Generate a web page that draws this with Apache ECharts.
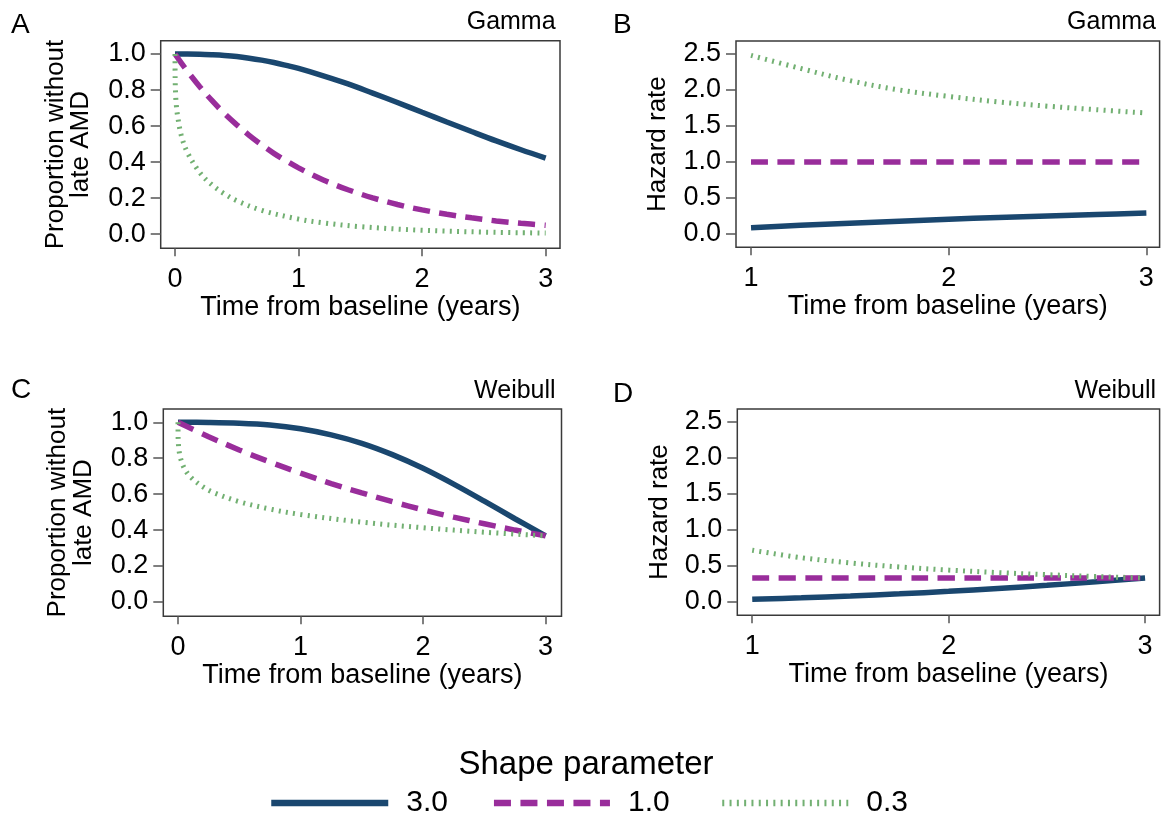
<!DOCTYPE html>
<html>
<head>
<meta charset="utf-8">
<script src="https://cdn.jsdelivr.net/npm/echarts@6/dist/echarts.min.js"></script>
<style>
html,body{margin:0;padding:0;background:#fff;}
#chart{width:1161px;height:821px;}
</style>
</head>
<body>
<div id="chart"></div>
<script>
// ---------- data ----------
const seriesNames = ['3.0', '1.0', '0.3'];
const xTicksSurv = [0, 1, 2, 3];
const xTicksHaz = [1, 2, 3];
const yTicksSurv = [0, 0.2, 0.4, 0.6, 0.8, 1.0];
const yTicksHaz = [0, 0.5, 1.0, 1.5, 2.0, 2.5];

// Panel A: Gamma survival
const gammaSurvT = [0, 0.05, 0.1, 0.2, 0.3, 0.4, 0.5, 0.6, 0.7, 0.8, 0.9, 1.0, 1.2, 1.4, 1.6, 1.8, 2.0, 2.2, 2.4, 2.6, 2.8, 3.0];
const gammaSurv30 = [1, 1.000, 1.000, 0.999, 0.996, 0.992, 0.986, 0.977, 0.966, 0.953, 0.937, 0.920, 0.879, 0.834, 0.783, 0.731, 0.677, 0.623, 0.570, 0.518, 0.469, 0.423];
const gammaSurv10 = [1, 0.951, 0.905, 0.819, 0.741, 0.670, 0.607, 0.549, 0.497, 0.449, 0.407, 0.368, 0.301, 0.247, 0.202, 0.165, 0.135, 0.111, 0.091, 0.074, 0.061, 0.050];
const gammaSurvT03 = [0, 0.001, 0.005, 0.01, 0.02, 0.05, 0.1, 0.2, 0.3, 0.4, 0.5, 0.7, 1.0, 1.2, 1.5, 2.0, 2.5, 3.0];
const gammaSurv03 = [1, 0.86, 0.77, 0.72, 0.66, 0.55, 0.454, 0.343, 0.273, 0.224, 0.186, 0.133, 0.084, 0.063, 0.042, 0.022, 0.012, 0.0065];

// Panel B: Gamma hazard
const hazT = [1, 1.25, 1.5, 1.75, 2, 2.25, 2.5, 2.75, 3];
const gammaHaz30 = [0.088, 0.12, 0.15, 0.178, 0.205, 0.228, 0.25, 0.27, 0.29];
const gammaHaz10 = [1, 1, 1, 1, 1, 1, 1, 1, 1];
const gammaHaz03 = [2.48, 2.30, 2.13, 2.00, 1.91, 1.835, 1.775, 1.725, 1.68];

// Panel C: Weibull survival
const weibSurvT = [0, 0.25, 0.5, 0.75, 1, 1.25, 1.5, 1.75, 2, 2.25, 2.5, 2.75, 3];
const weibSurv30 = [1, 0.999, 0.995, 0.985, 0.964, 0.930, 0.883, 0.820, 0.744, 0.656, 0.561, 0.463, 0.368];
const weibSurv10 = [1, 0.920, 0.846, 0.779, 0.717, 0.659, 0.607, 0.558, 0.513, 0.472, 0.435, 0.400, 0.368];
const weibSurvT03 = [0, 0.001, 0.005, 0.01, 0.02, 0.05, 0.1, 0.2, 0.3, 0.5, 0.75, 1, 1.5, 2, 2.5, 3];
const weibSurv03 = [1, 0.913, 0.864, 0.835, 0.801, 0.746, 0.697, 0.642, 0.606, 0.558, 0.517, 0.487, 0.444, 0.413, 0.388, 0.368];

// Panel D: Weibull hazard
const weibHaz30 = [0.037, 0.058, 0.083, 0.113, 0.148, 0.188, 0.231, 0.280, 0.333];
const weibHaz10 = [0.333, 0.333, 0.333, 0.333, 0.333, 0.333, 0.333, 0.333, 0.333];
const weibHaz03 = [0.719, 0.615, 0.542, 0.486, 0.443, 0.408, 0.379, 0.354, 0.333];

// ---------- styles ----------
const FONT = '"Liberation Sans", Arial, Helvetica, sans-serif';
const styles = {
  '3.0': { color: '#1a476f', width: 5.5, type: 'solid' },
  '1.0': { color: '#992d9b', width: 5.5, type: [17, 9.5] },
  '0.3': { color: '#72b072', width: 5, type: [2, 5.3] }
};

function pairs(xs, ys) { return xs.map((x, i) => [x, ys[i]]); }

function mkSeries(name, idx, xs, ys) {
  const s = styles[name];
  return {
    name: name, type: 'line', xAxisIndex: idx, yAxisIndex: idx,
    data: pairs(xs, ys), symbol: 'none', showSymbol: false, smooth: 0.35,
    lineStyle: { color: s.color, width: s.width, type: s.type, cap: 'butt' },
    itemStyle: { color: s.color },
    silent: true, animation: false, clip: true
  };
}

const grids = [
  { left: 160.7, top: 40.7, width: 399.3, height: 207.6 },
  { left: 736, top: 41, width: 423.6, height: 206.3 },
  { left: 163.3, top: 409, width: 398.2, height: 207.3 },
  { left: 737.3, top: 409, width: 422.3, height: 206.3 }
].map(g => Object.assign(g, { show: true, borderColor: '#3a3a3a', borderWidth: 1.5, backgroundColor: '#fff', containLabel: false }));

const xRanges = [[-0.116, 3.116], [0.924, 3.067], [-0.12, 3.13], [0.924, 3.074]];
const yRanges = [[-0.078, 1.074], [-0.185, 2.68], [-0.08, 1.074], [-0.185, 2.68]];

const xAxes = xRanges.map((r, i) => {
  const ticks = (i % 2 === 0) ? xTicksSurv : xTicksHaz;
  return {
    type: 'value', gridIndex: i, min: r[0], max: r[1], position: 'bottom',
    name: 'Time from baseline (years)', nameLocation: 'middle', nameGap: 46,
    nameTextStyle: { fontFamily: FONT, fontSize: 27, color: '#000' },
    axisLine: { show: false, onZero: false },
    axisTick: { show: true, length: 8, inside: false, customValues: ticks, lineStyle: { color: '#555', width: 1.5 } },
    axisLabel: { show: true, customValues: ticks, margin: 18, fontFamily: FONT, fontSize: 27, color: '#000', formatter: v => String(Math.round(v)) },
    splitLine: { show: false }
  };
});

const yAxes = yRanges.map((r, i) => {
  const surv = (i % 2 === 0);
  const ticks = surv ? yTicksSurv : yTicksHaz;
  return {
    type: 'value', gridIndex: i, min: r[0], max: r[1], position: 'left',
    name: surv ? 'Proportion without\nlate AMD' : 'Hazard rate',
    nameLocation: 'middle', nameGap: surv ? 67 : 65,
    nameTextStyle: { fontFamily: FONT, fontSize: 26, color: '#000', lineHeight: 25.5 },
    axisLine: { show: false, onZero: false },
    axisTick: { show: true, length: 10, inside: false, customValues: ticks, lineStyle: { color: '#555', width: 1.5 } },
    axisLabel: { show: true, customValues: ticks, margin: 15, fontFamily: FONT, fontSize: 27, color: '#000', formatter: v => v.toFixed(1) },
    splitLine: { show: false }
  };
});

const series = [
  mkSeries('3.0', 0, gammaSurvT, gammaSurv30),
  mkSeries('1.0', 0, gammaSurvT, gammaSurv10),
  mkSeries('0.3', 0, gammaSurvT03, gammaSurv03),
  mkSeries('3.0', 1, hazT, gammaHaz30),
  mkSeries('1.0', 1, hazT, gammaHaz10),
  mkSeries('0.3', 1, hazT, gammaHaz03),
  mkSeries('3.0', 2, weibSurvT, weibSurv30),
  mkSeries('1.0', 2, weibSurvT, weibSurv10),
  mkSeries('0.3', 2, weibSurvT03, weibSurv03),
  mkSeries('3.0', 3, hazT, weibHaz30),
  mkSeries('1.0', 3, hazT, weibHaz10),
  mkSeries('0.3', 3, hazT, weibHaz03)
];

function txt(text, x, y, size, align) {
  return { type: 'text', silent: true, style: { text: text, x: x, y: y, font: size + 'px ' + FONT, fill: '#000', textAlign: align, textVerticalAlign: 'middle' } };
}

function legendItem(name, left, w) {
  return {
    data: [name], left: left, top: 788, orient: 'horizontal',
    itemWidth: w, itemHeight: 14, padding: 0,
    itemStyle: { opacity: 0 },
    lineStyle: { width: 6.5 },
    textStyle: { fontFamily: FONT, fontSize: 30, color: '#000', padding: [0, 0, 0, 13] },
    selectedMode: false
  };
}

const option = {
  backgroundColor: '#fff',
  animation: false,
  grid: grids,
  xAxis: xAxes,
  yAxis: yAxes,
  series: series,
  legend: [
    legendItem(seriesNames[0], 268, 117),
    legendItem(seriesNames[1], 490.7, 116),
    legendItem(seriesNames[2], 719, 126)
  ],
  graphic: [
    txt('A', 11, 25, 28, 'left'),
    txt('B', 613, 25, 28, 'left'),
    txt('C', 11, 390, 28, 'left'),
    txt('D', 613, 394, 28, 'left'),
    txt('Gamma', 555.6, 22, 25, 'right'),
    txt('Gamma', 1156, 22, 25, 'right'),
    txt('Weibull', 555.6, 391.5, 25, 'right'),
    txt('Weibull', 1156, 391.5, 25, 'right'),
    txt('Shape parameter', 586, 765, 33, 'center')
  ]
};

const chart = echarts.init(document.getElementById('chart'), null, { renderer: 'canvas' });
chart.setOption(option);
</script>
</body>
</html>
